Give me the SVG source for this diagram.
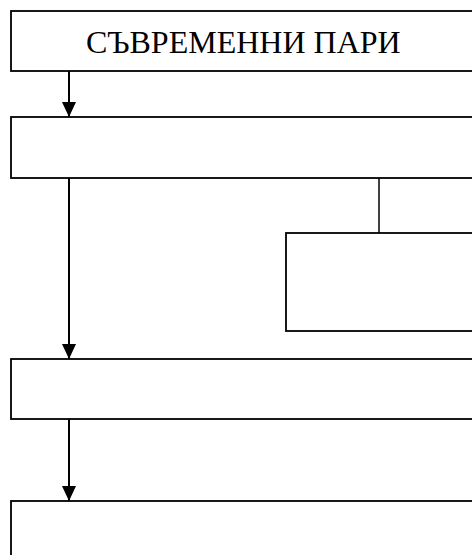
<svg xmlns="http://www.w3.org/2000/svg" width="472" height="555" viewBox="0 0 472 555">
<defs>
<style>
.box{fill:#fff;stroke:#000;stroke-width:1.8}
.ln{fill:none;stroke:#000;stroke-width:2}
.thin{fill:none;stroke:#000;stroke-width:1.5}
.t{font-family:"Liberation Serif","Times New Roman",serif;font-size:32px;fill:#000}
</style>
<marker id="ah" markerUnits="userSpaceOnUse" markerWidth="16" markerHeight="16" refX="15" refY="7" orient="auto">
<path d="M0,0 L15,7 L0,14 Z" fill="#000"/>
</marker>
</defs>
<rect width="472" height="555" fill="#fff"/>
<g id="connectors">
<line class="ln" x1="69" y1="71" x2="69" y2="117" marker-end="url(#ah)"/>
<line class="ln" x1="69" y1="178" x2="69" y2="359" marker-end="url(#ah)"/>
<line class="thin" x1="379" y1="178" x2="379" y2="233"/>
<line class="ln" x1="69" y1="419" x2="69" y2="501" marker-end="url(#ah)"/>
</g>
<g id="node1">
<rect class="box" x="11" y="11" width="470" height="60"/>
<text class="t" x="86" y="53">СЪВРЕМЕННИ ПАРИ</text>
</g>
<g id="node2">
<rect class="box" x="11" y="117" width="470" height="61"/>
</g>
<g id="node3">
<rect class="box" x="286" y="233" width="195" height="98"/>
</g>
<g id="node4">
<rect class="box" x="11" y="359" width="470" height="60"/>
</g>
<g id="node5">
<rect class="box" x="11" y="501" width="470" height="70"/>
</g>
</svg>
